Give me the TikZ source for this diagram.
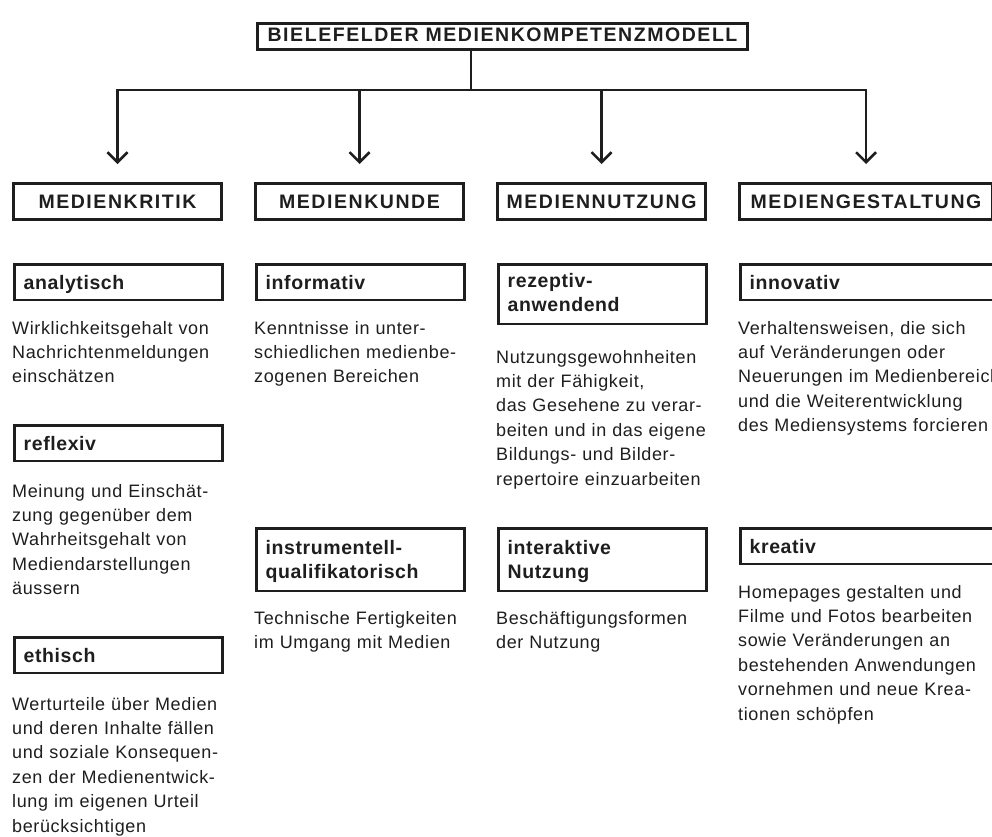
\documentclass[tikz,border=0pt]{standalone}
\usepackage{fontspec}
\setmainfont{Liberation Sans}
\newfontfamily\hdfam[LetterSpace=8]{Liberation Sans}
\newfontfamily\lbfam[LetterSpace=3]{Liberation Sans}
\newfontfamily\dsfam[LetterSpace=3.5]{Liberation Sans}
\usetikzlibrary{arrows.meta}
\definecolor{ink}{HTML}{1E1E1E}
\begin{document}
\begin{tikzpicture}[x=1pt,y=-1pt,
  frame/.style={draw=ink,line width=2.7pt,text=ink},
  head/.style={frame,inner sep=0pt,font=\hdfam\bfseries\fontsize{19.5}{24}\selectfont,
    text height=14pt,text depth=0pt,minimum height=36.3pt},
  lab/.style={frame,anchor=north west,inner xsep=9pt,inner ysep=0pt,align=left,
    text width=190pt,font=\lbfam\bfseries\fontsize{19.5}{24}\selectfont,
    text height=24.6pt,text depth=10.7pt},
  desc/.style={anchor=base west,inner sep=0pt,align=left,text=ink,text width=262pt,
    font=\dsfam\fontsize{18}{24.4}\selectfont},
  conn/.style={draw=ink,line width=2.5pt},
  arr/.style={conn,-{Straight Barb[length=10pt,width=20pt]},shorten >=18pt}
]
\useasboundingbox (0,0) rectangle (992,836);
\clip (0,0) rectangle (992,836);

% title
\node[head,minimum width=490.3pt,text depth=5pt,minimum height=26.3pt] (T) at (502.5,36.5)
  {BIELEFELDER MEDIENKOMPETENZMODELL};

% column heads
\node[head,minimum width=208.3pt] (K1) at (117.5,201.5) {MEDIENKRITIK};
\node[head,minimum width=208.3pt] (K2) at (359.5,201.5) {MEDIENKUNDE};
\node[head,minimum width=208.3pt] (K3) at (601.5,201.5) {MEDIENNUTZUNG};
\node[head,minimum width=253.3pt] (K4) at (866,201.5) {MEDIENGESTALTUNG};

% connectors
\coordinate (vx) at (471,90);
\draw[conn] (T.south -| vx) -- (vx);
\draw[conn,line cap=rect] (K1.north |- vx) -- (K4.north |- vx);
\draw[arr] (K1.north |- vx) -- (K1.north);
\draw[arr] (K2.north |- vx) -- (K2.north);
\draw[arr] (K3.north |- vx) -- (K3.north);
\draw[arr] (K4.north |- vx) -- (K4.north);

% column 1
\node[lab] (a1) at (13.35,263.35) {analytisch};
\node[desc] (d1) at (12,334) {Wirklichkeitsgehalt von\\Nachrichtenmeldungen\\einschätzen};
\node[lab] (a2) at (13.35,424.35) {reflexiv};
\node[desc] (d2) at (12,497) {Meinung und Einschät-\\zung gegenüber dem\\Wahrheitsgehalt von\\Mediendarstellungen\\äussern};
\node[lab] (a3) at (13.35,636.35) {ethisch};
\node[desc] (d3) at (12,710) {Werturteile über Medien\\und deren Inhalte fällen\\und soziale Konsequen-\\zen der Medienentwick-\\lung im eigenen Urteil\\berücksichtigen};

% column 2
\node[lab] (b1) at (255.35,263.35) {informativ};
\node[desc] (e1) at (254,334) {Kenntnisse in unter-\\schiedlichen medienbe-\\zogenen Bereichen};
\node[lab,text height=25.5pt,text depth=36.8pt] (b2) at (255.35,527.35) {instrumentell-\\qualifikatorisch};
\node[desc] (e2) at (254,624) {Technische Fertigkeiten\\im Umgang mit Medien};

% column 3
\node[lab,text height=23pt,text depth=36.3pt] (c1) at (497.35,263.35) {rezeptiv-\\anwendend};
\node[desc] (f1) at (496,363) {Nutzungsgewohnheiten\\mit der Fähigkeit,\\das Gesehene zu verar-\\beiten und in das eigene\\Bildungs- und Bilder-\\repertoire einzuarbeiten};
\node[lab,text height=25.5pt,text depth=36.8pt] (c2) at (497.35,527.35) {interaktive\\Nutzung};
\node[desc] (f2) at (496,624) {Beschäftigungsformen\\der Nutzung};

% column 4
\node[lab,text width=235pt] (g1) at (739.35,263.35) {innovativ};
\node[desc] (h1) at (738,334) {Verhaltensweisen, die sich\\auf Veränderungen oder\\Neuerungen im Medienbereich\\und die Weiterentwicklung\\des Mediensystems forcieren};
\node[lab,text width=235pt] (g2) at (739.35,527.35) {kreativ};
\node[desc] (h2) at (738,598) {Homepages gestalten und\\Filme und Fotos bearbeiten\\sowie Veränderungen an\\bestehenden Anwendungen\\vornehmen und neue Krea-\\tionen schöpfen};
\end{tikzpicture}
\end{document}
